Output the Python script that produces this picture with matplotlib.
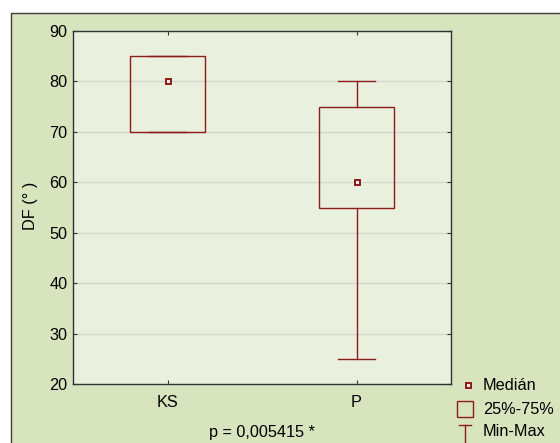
import matplotlib
matplotlib.use("Agg")
import matplotlib.pyplot as plt
from matplotlib.patches import Rectangle

plt.rcParams['font.family'] = ['Liberation Sans', 'DejaVu Sans']

categories = ["KS", "P"]
medians = [80, 60]
q1 = [70, 55]
q3 = [85, 75]
mins = [70, 25]
maxs = [85, 80]
yticks = [20, 30, 40, 50, 60, 70, 80, 90]
ylabel = "DF (° )"
xlabel = "p = 0,005415 *"
legend_labels = ["Medián", "25%-75%", "Min-Max"]

W, H = 560, 443
FS = 11.7
fig = plt.figure(figsize=(W / 100, H / 100), dpi=100)
fig.patch.set_facecolor("white")

panel_col = "#D7E4BD"
plot_col = "#E9F0DD"
red = "#8E1B1B"

# background panel axes (pixel coordinates)
bg = fig.add_axes([0, 0, 1, 1], zorder=-1)
bg.set_xlim(0, W)
bg.set_ylim(H, 0)
bg.axis("off")
bg.add_patch(Rectangle((10.5, 12.5), W, H, facecolor=panel_col,
                       edgecolor="#404040", linewidth=1.0))

ax = fig.add_axes([73 / W, 1 - 384 / H, (451 - 73) / W, (384 - 31) / H], zorder=1)
ax.set_facecolor(plot_col)
ax.set_xlim(-0.5, 1.5)
ax.set_ylim(20, 90)
ax.set_yticks(yticks)
ax.set_xticks(range(len(categories)))
ax.set_xticklabels(categories)
ax.tick_params(direction="in", length=3, top=True, right=True, labelsize=FS,
               color="#333333", pad=4)
ax.tick_params(axis="x", pad=8)
for s in ax.spines.values():
    s.set_color("#333333")
    s.set_linewidth(1.0)
ax.yaxis.grid(True, color="#D5D8CC", linewidth=1.0)
ax.set_axisbelow(True)

bw = 0.4
cw = 0.2
for i in range(len(categories)):
    ax.plot([i, i], [mins[i], q1[i]], color=red, lw=1, zorder=2)
    ax.plot([i, i], [q3[i], maxs[i]], color=red, lw=1, zorder=2)
    ax.plot([i - cw / 2, i + cw / 2], [mins[i], mins[i]], color=red, lw=1, zorder=2)
    ax.plot([i - cw / 2, i + cw / 2], [maxs[i], maxs[i]], color=red, lw=1, zorder=2)
    ax.add_patch(Rectangle((i - bw / 2, q1[i]), bw, q3[i] - q1[i],
                           facecolor="none", edgecolor=red, lw=1, zorder=3))
    ax.plot([i], [medians[i]], marker="s", markersize=3.6, markerfacecolor="#F4F0E8",
            markeredgecolor=red, markeredgewidth=1.4, zorder=4)

bg.text(30, 206, ylabel, rotation=90, ha="center", va="center", fontsize=FS)
bg.text(262, 432, xlabel, ha="center", va="center", fontsize=FS)

# legend (pixel coordinates on background axes)
bg.plot([468], [385], marker="s", markersize=3.6, markerfacecolor="#F4F0E8",
        markeredgecolor=red, markeredgewidth=1.4)
bg.text(483, 385, legend_labels[0], ha="left", va="center", fontsize=FS)
bg.add_patch(Rectangle((457, 401), 16, 16, facecolor="none", edgecolor=red, lw=1))
bg.text(483, 409, legend_labels[1], ha="left", va="center", fontsize=FS)
bg.plot([459, 471], [425, 425], color=red, lw=1)
bg.plot([465, 465], [425, H + 2], color=red, lw=1)
bg.text(483, 431, legend_labels[2], ha="left", va="center", fontsize=FS)

fig.savefig("out.png", dpi=100, facecolor=fig.get_facecolor())
